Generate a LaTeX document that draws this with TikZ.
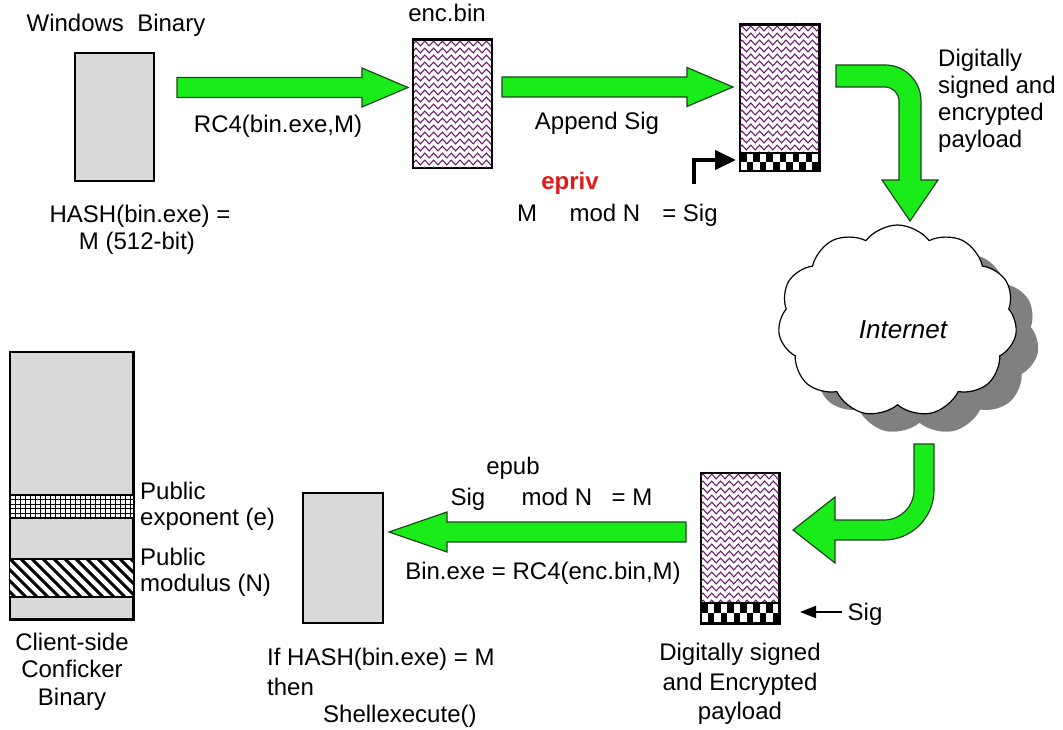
\documentclass[tikz,border=0pt]{standalone}
\usepackage{fontspec}
\setmainfont{Liberation Sans}
\usetikzlibrary{shapes.symbols,arrows.meta,decorations.pathmorphing}
\definecolor{boxgray}{RGB}{217,217,217}
\definecolor{arrgreen}{RGB}{26,236,26}
\definecolor{arredge}{RGB}{30,70,30}
\definecolor{wavep}{RGB}{105,25,105}
\definecolor{sigred}{RGB}{228,24,24}
\definecolor{shadowgray}{RGB}{128,128,128}
\newcommand\wavyrows[4]{%
  \begin{scope}
  \clip (#1,#2) rectangle (#3,#4);
  \foreach \k in {0,...,22}{
    \draw[wavep, line width=1.05pt, decorate, decoration={zigzag, segment length=8.8pt, amplitude=2.4pt}] ({#1-9},{#2+3.5+7*\k}) -- ({#3+9},{#2+3.5+7*\k});
  }
  \end{scope}}
\newcommand\checkrows[4]{%
  \foreach \i in {0,2,...,10}{
    \fill ({#1+\i*#3},#2) rectangle ++(#3,#4);
    \fill ({#1+(\i+1)*#3},{#2+#4}) rectangle ++(#3,#4);
  }}
\begin{document}
\begin{tikzpicture}[x=1pt,y=-1pt,
  lbl/.style={font=\fontsize{24}{27}\selectfont, anchor=base, inner sep=0pt},
  lbll/.style={lbl, anchor=base west},
  plainbox/.style={draw, line width=1.5pt, fill=boxgray, inner sep=0pt},
  patbox/.style={draw, line width=1.5pt, fill=white, inner sep=0pt},
  garrow/.style={fill=arrgreen, draw=arredge, line width=1.2pt, line join=miter},
  cloudshape/.style={cloud, cloud puffs=11, cloud puff arc=105, aspect=1.25, minimum width=239pt, minimum height=192pt, inner sep=0pt}]
\useasboundingbox (0,0) rectangle (1063,730);
\fill[white] (0,0) rectangle (1063,730);

% ---------- top row ----------
\node[lbl] (wintxt) at (116,32) {Windows~~Binary};
\node[plainbox, minimum width=79pt, minimum height=128pt] (bin) at (114.5,117) {};
\node[lbl] (hash1) at (140,223) {HASH(bin.exe) =};
\node[lbl] (hash2) at (137,250) {M (512-bit)};

\draw[garrow] (177,77.5) -- (362,77.5) -- (362,68) -- (408,87.5) -- (362,107) -- (362,97.5) -- (177,97.5) -- cycle;
\node[lbl] (rc4) at (278,133) {RC4(bin.exe,M)};

\node[lbl] (enctxt) at (447,22) {enc.bin};
\node[patbox, minimum width=78pt, minimum height=128pt] (enc) at (452.5,104) {};
\wavyrows{414}{40}{491}{168}
\draw[line width=1.5pt] (enc.south west) rectangle (enc.north east);

\draw[garrow] (502,77) -- (687,77) -- (687,67.5) -- (733,87) -- (687,106.5) -- (687,97) -- (502,97) -- cycle;
\node[lbl] (append) at (597,130) {Append Sig};

\node[patbox, minimum width=79pt, minimum height=146pt] (sig1) at (779.5,98) {};
\wavyrows{740}{25}{819}{153}
\checkrows{740}{153}{6.583}{9}
\draw[line width=1.5pt] (740,153) -- (819,153);
\draw[line width=1.5pt] (sig1.south west) rectangle (sig1.north east);
\coordinate (sigstrip1) at (736,160);
\coordinate (bendstart) at (694,184);
\draw[line width=4pt, -{Triangle[length=21pt,width=19pt]}] (bendstart) |- (sigstrip1);

\node[lbl, font=\fontsize{24}{27}\selectfont\bfseries, text=sigred] (epriv) at (570,190) {epriv};
\node[lbl] (mtxt) at (527,222) {M};
\node[lbl] (modn1) at (605,222) {mod N};
\node[lbl] (eqsig) at (690,222) {= Sig};

\draw[garrow] (836,65) -- (885,65) .. controls (904.9,65) and (921,81.1) .. (921,101) -- (921,180) -- (938,180) -- (910,221) -- (882,180) -- (899,180) -- (899,101) .. controls (899,93.3) and (892.7,87) .. (885,87) -- (836,87) -- cycle;
\node[lbll] (ds1) at (938,67) {Digitally};
\node[lbll] (ds2) at (938,94) {signed and};
\node[lbll] (ds3) at (938,121) {encrypted};
\node[lbll] (ds4) at (938,148) {payload};

% ---------- bottom right ----------
\draw[garrow] (914,444) -- (934,444) -- (934,490) .. controls (934,517.6) and (911.6,540) .. (884,540) -- (835,540) -- (835,563) -- (793,530) -- (835,497) -- (835,520) -- (884,520) .. controls (900.6,520) and (914,506.6) .. (914,490) -- cycle;

\node[cloudshape, fill=shadowgray] (netshadow) at (919.5,339) {};
\node[cloudshape, draw, line width=1.2pt, fill=white] (net) at (897.5,321) {};
\node[font=\fontsize{26}{30}\selectfont\itshape, inner sep=0pt] (nettxt) at (903,330) {Internet};

\node[patbox, minimum width=78pt, minimum height=150pt] (sig2) at (740,548) {};
\wavyrows{701}{473}{779}{603}
\checkrows{701}{603}{6.5}{10}
\draw[line width=1.5pt] (701,603) -- (779,603);
\draw[line width=1.5pt] (sig2.south west) rectangle (sig2.north east);
\node[lbl] (sigtxt) at (865,620) {Sig};
\coordinate (sigfrom) at (842,612);
\coordinate (sigto) at (800,612);
\draw[line width=2pt, -{Triangle[length=16pt,width=12pt]}] (sigfrom) -- (sigto);
\node[lbl] (dsb1) at (740,660) {Digitally signed};
\node[lbl] (dsb2) at (740,690) {and Encrypted};
\node[lbl] (dsb3) at (740,719) {payload};

% ---------- bottom middle ----------
\draw[garrow] (686,522) -- (447,522) -- (447,512) -- (389,532) -- (447,552) -- (447,542) -- (686,542) -- cycle;
\node[lbl] (epub) at (513,474) {epub};
\node[lbl] (sigb) at (468,505) {Sig};
\node[lbl] (modn2) at (557,505) {mod N};
\node[lbl] (eqm) at (632,505) {= M};
\node[lbl] (binexe) at (543,579) {Bin.exe = RC4(enc.bin,M)};

\node[plainbox, minimum width=80pt, minimum height=130pt] (exe) at (343,558) {};
\node[lbll] (if1) at (267,665) {If HASH(bin.exe) = M};
\node[lbll] (if2) at (267,695) {then};
\node[lbll] (if3) at (323,722) {Shellexecute()};

% ---------- bottom left ----------
\node[plainbox, minimum width=123pt, minimum height=267pt] (client) at (71.5,485.5) {};
\begin{scope}
  \clip (10,495) rectangle (133,518);
  \fill[white] (10,495) rectangle (133,518);
  \foreach \k in {0,...,25} \draw[line width=0.9pt] ({10+5*\k},495) -- ({10+5*\k},518);
  \foreach \k in {1,...,4} \draw[line width=0.9pt] (10,{495+4.6*\k}) -- (133,{495+4.6*\k});
\end{scope}
\draw[line width=1.8pt] (10,495) -- (133,495) (10,518) -- (133,518);
\begin{scope}
  \clip (10,559) rectangle (133,597);
  \fill[white] (10,559) rectangle (133,597);
  \foreach \k in {-4,...,13} \draw[line width=3pt] ({10+11*\k},559) -- ({48+11*\k},597);
\end{scope}
\draw[line width=1.8pt] (10,559) -- (133,559) (10,597) -- (133,597);
\draw[line width=1.5pt] (client.south west) rectangle (client.north east);

\node[lbll] (pe1) at (140,499) {Public};
\node[lbll] (pe2) at (140,525) {exponent (e)};
\node[lbll] (pm1) at (140,565) {Public};
\node[lbll] (pm2) at (140,591) {modulus (N)};
\node[lbl] (cl1) at (72,650) {Client-side};
\node[lbl] (cl2) at (72,677) {Conficker};
\node[lbl] (cl3) at (72,705) {Binary};
\end{tikzpicture}
\end{document}
